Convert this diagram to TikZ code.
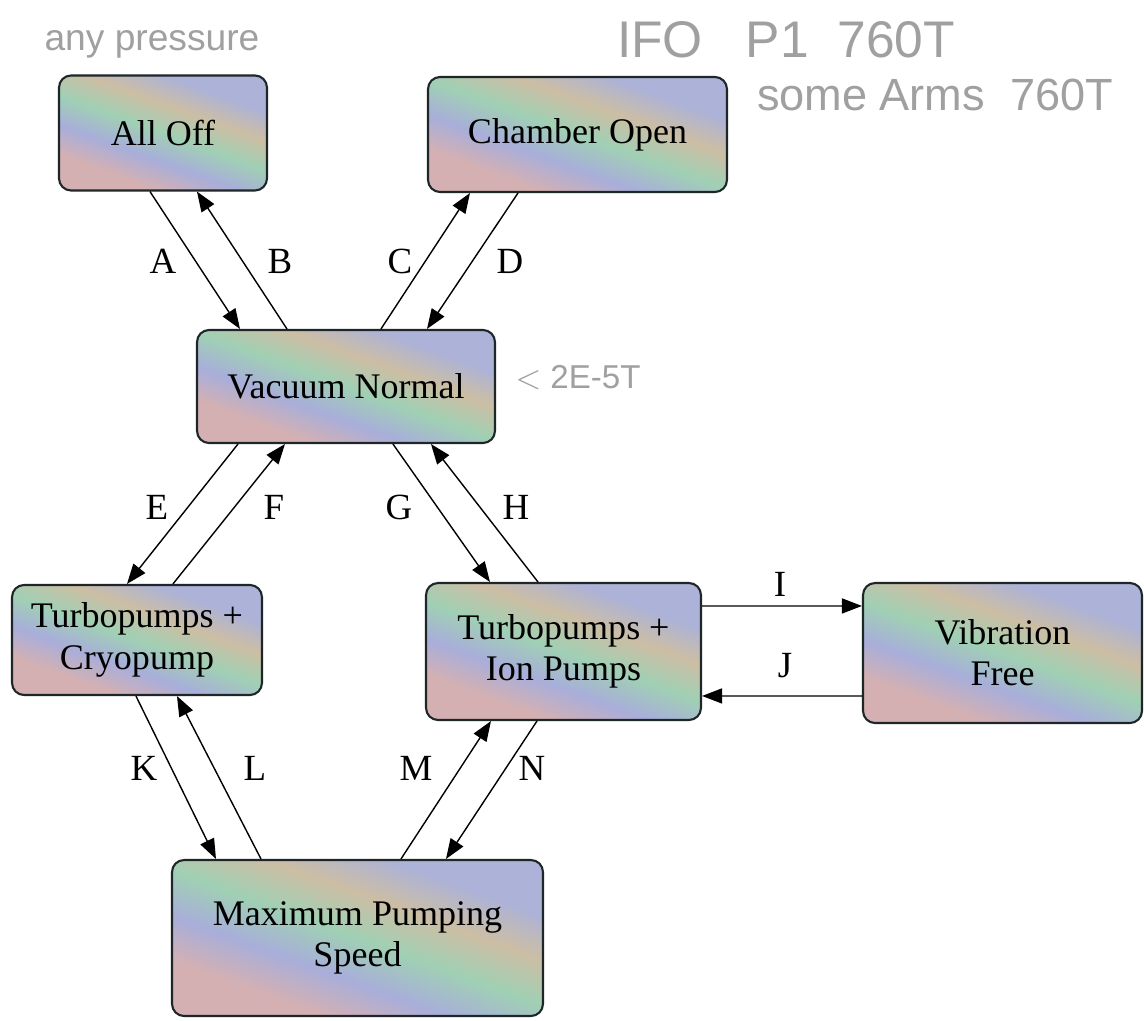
\documentclass[tikz,border=0pt]{standalone}
\usepackage{fontspec}
\setmainfont{Liberation Serif}
\newfontfamily\handfont{Liberation Sans}
\usetikzlibrary{arrows.meta,calc}
\definecolor{rA}{RGB}{212,176,178}
\definecolor{rB}{RGB}{168,174,218}
\definecolor{rC}{RGB}{160,208,180}
\definecolor{rD}{RGB}{204,190,164}
\definecolor{rE}{RGB}{172,178,216}
\definecolor{hand}{RGB}{160,160,160}
\definecolor{edge}{RGB}{30,38,40}
\pgfdeclarehorizontalshading{pastel}{100bp}{color(0bp)=(rA); color(30bp)=(rA); color(40bp)=(rB); color(50bp)=(rC); color(60bp)=(rD); color(70bp)=(rE); color(100bp)=(rE)}
\begin{document}
\begin{tikzpicture}[x=0.02cm,y=-0.02cm,
  state/.style={draw=edge,line width=1.2pt,rounded corners=0.24cm,shading=pastel,shading angle=70,
    align=center,font=\fontsize{20.5}{23.5}\selectfont,inner sep=0pt},
  lab/.style={font=\fontsize{21}{24}\selectfont,inner sep=0pt},
  conn/.style={line width=0.8pt,draw=black,-{Triangle[length=0.4cm,width=0.3cm]}},
  hw/.style={text=hand,inner sep=0pt,font=\handfont}]
\useasboundingbox (0,0) rectangle (1144,1021);
\fill[white] (0,0) rectangle (1144,1021);
% states
\node[state,minimum width=4.16cm,minimum height=2.30cm] (off) at (163,133) {All Off};
\node[state,minimum width=5.98cm,minimum height=2.30cm] (open) at (577.5,134.5) {Chamber Open};
\node[state,minimum width=5.96cm,minimum height=2.26cm] (vac) at (346,386.5) {Vacuum Normal};
\node[state,minimum width=5.00cm,minimum height=2.20cm] (cryo) at (137,640) {Turbopumps +\\Cryopump};
\node[state,minimum width=5.50cm,minimum height=2.74cm] (ion) at (563.5,651.5) {Turbopumps +\\Ion Pumps};
\node[state,minimum width=5.58cm,minimum height=2.80cm] (vib) at (1002.5,653) {Vibration\\Free};
\node[state,minimum width=7.42cm,minimum height=3.12cm] (max) at (357.5,938) {Maximum Pumping\\Speed};
% connectors
\draw[conn] ($(off.south west)+(92,0)$) -- ($(vac.north west)+(44,0)$);
\draw[conn] ($(vac.north west)+(91,0)$) -- ($(off.south west)+(139,0)$);
\draw[conn] ($(vac.north west)+(185,0)$) -- ($(open.south west)+(43,0)$);
\draw[conn] ($(open.south west)+(91,0)$) -- ($(vac.north west)+(231,0)$);
\draw[conn] ($(vac.south west)+(42,0)$) -- ($(cryo.north west)+(116,0)$);
\draw[conn] ($(cryo.north west)+(162,0)$) -- ($(vac.south west)+(89,0)$);
\draw[conn] ($(vac.south west)+(197,0)$) -- ($(ion.north west)+(65,0)$);
\draw[conn] ($(ion.north west)+(113,0)$) -- ($(vac.south west)+(235,0)$);
\draw[conn] ($(ion.north east)+(0,24)$) -- ($(vib.north west)+(0,24)$);
\draw[conn] ($(vib.north west)+(0,114)$) -- ($(ion.north east)+(0,114)$);
\draw[conn] ($(cryo.south west)+(125,0)$) -- ($(max.north west)+(45,0)$);
\draw[conn] ($(max.north west)+(90,0)$) -- ($(cryo.south west)+(166,0)$);
\draw[conn] ($(max.north west)+(230,0)$) -- ($(ion.south west)+(66,0)$);
\draw[conn] ($(ion.south west)+(112,0)$) -- ($(max.north west)+(275,0)$);
% labels
\node[lab] (lA) at (163,261) {A};
\node[lab] (lB) at (280,261) {B};
\node[lab] (lC) at (400,261) {C};
\node[lab] (lD) at (510,261) {D};
\node[lab] (lE) at (157,507) {E};
\node[lab] (lF) at (274,507) {F};
\node[lab] (lG) at (399,507) {G};
\node[lab] (lH) at (516,507) {H};
\node[lab] (lI) at (780,584) {I};
\node[lab] (lJ) at (785,666) {J};
\node[lab] (lK) at (144,768) {K};
\node[lab] (lL) at (255,768) {L};
\node[lab] (lM) at (416,768) {M};
\node[lab] (lN) at (532,768) {N};
% handwritten notes
\node[hw] (n1) at (152,44) {\resizebox{4.3cm}{!}{any pressure}};
\node[hw] (n2) at (786,40) {\resizebox{6.76cm}{!}{IFO\ \ \ P1\ \ 760T}};
\node[hw] (n3) at (935,95) {\resizebox{7.12cm}{!}{some Arms\ \ 760T}};
\node[hw] (n4) at (578,378) {\resizebox{2.5cm}{!}{$<$ 2E-5T}};
\end{tikzpicture}
\end{document}
